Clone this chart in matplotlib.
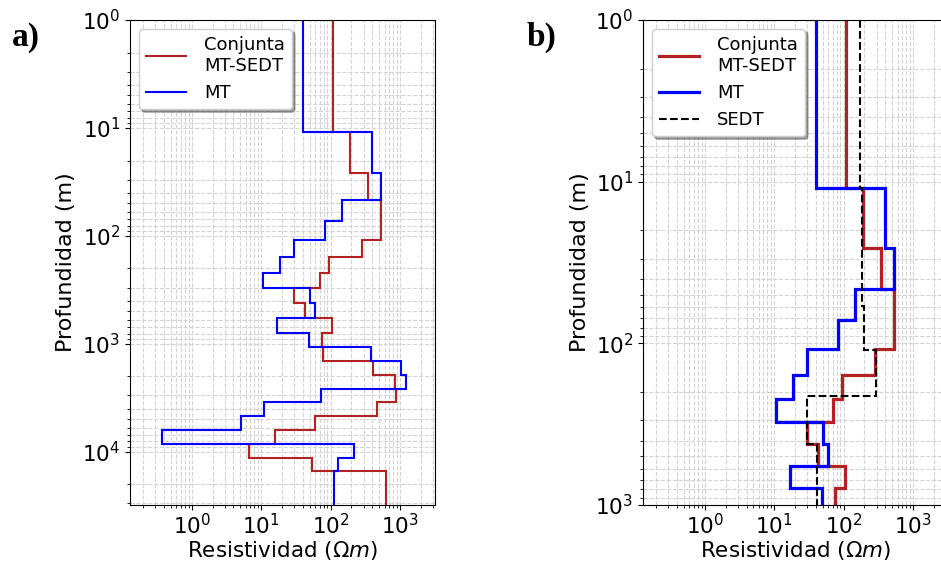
import numpy as np
import matplotlib
matplotlib.use('Agg')
from matplotlib import pyplot as plt

# layer boundaries (m), first edge = surface, last edge = beyond plot
depth_edges = [1, 11, 25.9, 46, 72, 108, 156, 220, 305, 419, 577, 785,
               1059, 1430, 1937, 2593, 3470, 4640, 6250, 8370, 11300, 15100, 1e5]

# resistivity per layer (ohm m)
rho_joint = [107, 190, 350, 532, 532, 286, 96, 70, 29.7, 43, 104, 75,
             77, 404, 847, 875, 471, 60, 15.8, 6.8, 54.6, 622]
rho_mt = [40.5, 399, 532, 145, 83, 29.5, 18.6, 10.8, 50.4, 60.5, 17.2, 48.5,
          382, 1033, 1207, 72.8, 11.1, 5.1, 0.37, 217, 129, 112]

# SEDT model (only shown in panel b)
sedt_edges = [1, 11, 59, 110, 212, 420, 1e5]
rho_sedt = [175, 185, 200, 297, 29.8, 41.6]

red = '#b22222'
blue = '#0000ff'

fig = plt.figure(figsize=(9.41, 5.64), dpi=100)
ax1 = fig.add_axes([0.1381, 0.1046, 0.3241, 0.8599])
ax2 = fig.add_axes([0.6833, 0.1046, 0.3241, 0.8599])


def setup(ax, ymax):
    ax.set_xscale('log')
    ax.set_yscale('log')
    ax.set_xlim(0.129, 3190)
    ax.set_ylim(ymax, 1)
    ax.grid(which='both', ls='--', color='#d3d3d3', lw=0.8)
    ax.set_axisbelow(True)
    ax.tick_params(labelsize=15.5)
    ax.tick_params(axis='x', pad=2.5)
    ax.set_xlabel(r'Resistividad ($\Omega m$)', fontsize=15.5, labelpad=0.5)
    ax.set_ylabel('Profundidad (m)', fontsize=16)


# panel a
ax1.stairs(rho_joint, depth_edges, orientation='horizontal', baseline=None,
           color=red, lw=1.5, label='Conjunta\nMT-SEDT')
ax1.stairs(rho_mt, depth_edges, orientation='horizontal', baseline=None,
           color=blue, lw=1.5, label='MT')
setup(ax1, 3.1e4)
ax1.legend(loc='upper left', fontsize=13, shadow=True, handlelength=2.2,
           handletextpad=1.0)

# panel b
ax2.stairs(rho_joint, depth_edges, orientation='horizontal', baseline=None,
           color=red, lw=2.3, label='Conjunta\nMT-SEDT')
ax2.stairs(rho_mt, depth_edges, orientation='horizontal', baseline=None,
           color=blue, lw=2.3, label='MT')
ax2.stairs(rho_sedt, sedt_edges, orientation='horizontal', baseline=None,
           color='black', lw=1.5, ls='--', label='SEDT')
setup(ax2, 1000)
ax2.legend(loc='upper left', fontsize=13, shadow=True, handlelength=2.2,
           handletextpad=1.0)

fig.text(0.013, 0.933, 'a)', fontsize=24, fontweight='bold',
         family='Liberation Serif', va='center')
fig.text(0.560, 0.933, 'b)', fontsize=24, fontweight='bold',
         family='Liberation Serif', va='center')

fig.savefig('out.png', dpi=100)
